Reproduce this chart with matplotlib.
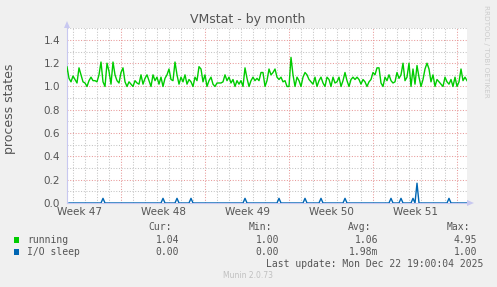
import numpy as np
import pandas as pd
import matplotlib
matplotlib.use('Agg')
import matplotlib.pyplot as plt
from matplotlib.patches import Polygon, Rectangle

# running processes, one sample per 4 hours
running = [
    1.12, 1.08, 1.05, 1.05, 1.11, 1.04, 1.00, 1.04, 1.02, 1.00,
    1.04, 1.03, 1.17, 1.07, 1.04, 1.09, 1.06, 1.03, 1.16, 1.10,
    1.04, 1.03, 1.00, 1.05, 1.08, 1.05, 1.05, 1.04, 1.10, 1.21,
    1.04, 1.00, 1.20, 1.13, 1.02, 1.21, 1.10, 1.05, 1.03, 1.12,
    1.16, 1.04, 1.00, 1.04, 1.02, 1.00, 1.05, 1.03, 1.02, 1.10,
    1.02, 1.07, 1.10, 1.05, 1.00, 1.10, 1.05, 1.08, 1.02, 1.08,
    1.00, 1.07, 1.10, 1.15, 1.06, 1.05, 1.21, 1.10, 1.02, 1.08,
    1.04, 1.10, 1.02, 1.06, 1.04, 1.00, 1.08, 1.05, 1.17, 1.15,
    1.04, 1.10, 1.00, 1.05, 1.08, 1.02, 1.00, 1.03, 1.03, 1.03,
    1.04, 1.10, 1.05, 1.08, 1.03, 1.06, 1.00, 1.05, 1.02, 1.05,
    1.00, 1.16, 1.07, 1.00, 1.05, 1.08, 1.05, 1.07, 1.05, 1.12,
    1.12, 1.00, 1.05, 1.15, 1.10, 1.12, 1.15, 1.08, 1.06, 1.08,
    1.04, 1.05, 1.00, 1.00, 1.25, 1.10, 1.00, 1.08, 1.05, 1.00,
    1.08, 1.12, 1.10, 1.06, 1.04, 1.02, 1.08, 1.00, 1.05, 1.08,
    1.03, 1.00, 1.08, 1.06, 1.00, 1.08, 1.03, 1.04, 1.08, 1.00,
    1.05, 1.12, 1.05, 1.00, 1.06, 1.08, 1.06, 1.08, 1.06, 1.02,
    1.06, 1.04, 1.00, 1.04, 1.06, 1.12, 1.10, 1.16, 1.16, 1.03,
    1.00, 1.08, 1.05, 1.10, 1.05, 1.03, 1.04, 1.12, 1.07, 1.10,
    1.20, 1.05, 1.08, 1.20, 1.00, 1.15, 1.02, 1.18, 1.08, 1.00,
    1.06, 1.15, 1.20, 1.15, 1.04, 1.10, 1.00, 1.06, 1.04, 1.02,
    1.00, 1.08, 1.04, 1.02, 1.06, 1.00, 1.08, 1.00, 1.04, 1.15,
    1.05, 1.08, 1.05,
]

# I/O sleep: zero except a few short spikes (sample index, value)
io_spike_idx = [17, 47, 54, 61, 88, 105, 118, 126, 138, 161, 166, 172, 174, 190]
io_spike_val = [0.04, 0.04, 0.04, 0.04, 0.04, 0.04, 0.04, 0.04, 0.04, 0.04,
                0.04, 0.04, 0.17, 0.04]
io_len = 200

week_labels = ["Week 47", "Week 48", "Week 49", "Week 50", "Week 51"]
week_mondays = ["2025-11-17", "2025-11-24", "2025-12-01", "2025-12-08", "2025-12-15"]

legend_names = ["running", "I/O sleep"]
legend_colors = ["#00cc00", "#0066b3"]
cur_vals = ["1.04", "0.00"]
min_vals = ["1.00", "0.00"]
avg_vals = ["1.06", "1.98m"]
max_vals = ["4.95", "1.00"]

t_start = pd.Timestamp("2025-11-19 11:00")
t_end = pd.Timestamp("2025-12-22 19:00")

W, H = 497, 287
BG = "#f0f0f0"
TXT = "#555555"

fig = plt.figure(figsize=(W / 100, H / 100), dpi=100, facecolor=BG)
L, R, T, B = 67, 467, 28, 203
ax = fig.add_axes([L / W, 1 - B / H, (R - L) / W, (B - T) / H])
ax.set_facecolor("white")

t_run = pd.date_range(end=t_end, periods=len(running), freq="4h")
io = np.zeros(io_len)
io[io_spike_idx] = io_spike_val
t_io = pd.date_range(end=t_end, periods=io_len, freq="4h")

ax.set_xlim(t_start, t_end)
ax.set_ylim(0, 1.502)

# grid: minor gray dotted, major red dotted
dot = (0, (1, 1.6))
MINOR = "#c4c4c4"
MAJOR = "#e89a9a"
for d in pd.date_range("2025-11-20", "2025-12-22", freq="D"):
    ax.axvline(d, color=MAJOR if d.weekday() == 0 else MINOR,
               lw=0.75, ls=dot, zorder=1)
for k in range(1, 16):
    ax.axhline(k / 10, color=MAJOR if k % 2 == 0 else MINOR,
               lw=0.75, ls=dot, zorder=1)

ax.plot(t_run, running, color=legend_colors[0], lw=1, zorder=3)
ax.plot(t_io, io, color=legend_colors[1], lw=1, zorder=3)

for s in ["top", "right"]:
    ax.spines[s].set_visible(False)
for s in ["left", "bottom"]:
    ax.spines[s].set_color("#c8c8f0")
    ax.spines[s].set_linewidth(0.8)

yt = np.arange(0, 1.41, 0.2)
ax.set_yticks(yt)
ax.set_yticklabels([f"{v:.1f}" for v in yt])
centers = [pd.Timestamp(m) + pd.Timedelta(hours=84) for m in week_mondays]
ax.set_xticks(centers)
ax.set_xticklabels(week_labels)
ax.tick_params(axis="both", length=0, labelsize=7.5, labelcolor=TXT, pad=3)
ax.tick_params(axis="y", pad=5)

# axis arrows
def px(x, y):
    return (x / W, 1 - y / H)

fig.patches.append(Polygon([px(64, 28), px(70, 28), px(67, 21)], closed=True,
                           transform=fig.transFigure, fc="#c8c8f0", ec="none"))
fig.patches.append(Polygon([px(467, 200), px(467, 206), px(474, 203)], closed=True,
                           transform=fig.transFigure, fc="#c8c8f0", ec="none"))

fig.text(248 / W, 1 - 20 / H, "VMstat - by month", ha="center", va="center",
         fontsize=9, color=TXT)
fig.text(10 / W, 1 - 109 / H, "process states", rotation=90, ha="center",
         va="center", fontsize=9, color=TXT)
fig.text(486 / W, 1 - 5 / H, "RRDTOOL / TOBI OETIKER", rotation=270, ha="center",
         va="top", fontsize=5.2, color="#cccccc")

mono = dict(family="DejaVu Sans Mono", fontsize=7, color=TXT, va="center")
fig.text(172 / W, 1 - 227 / H, "Cur:", ha="right", **mono)
fig.text(272 / W, 1 - 227 / H, "Min:", ha="right", **mono)
fig.text(371 / W, 1 - 227 / H, "Avg:", ha="right", **mono)
fig.text(470 / W, 1 - 227 / H, "Max:", ha="right", **mono)

rows_y = [240, 252]
for i, name in enumerate(legend_names):
    y = 1 - rows_y[i] / H
    fig.patches.append(Rectangle(px(14, rows_y[i] + 3), 5 / W, 6 / H,
                                 transform=fig.transFigure,
                                 fc=legend_colors[i], ec="none"))
    fig.text(27 / W, y, name, ha="left", **mono)
    fig.text(179 / W, y, cur_vals[i], ha="right", **mono)
    fig.text(279 / W, y, min_vals[i], ha="right", **mono)
    fig.text(378 / W, y, avg_vals[i], ha="right", **mono)
    fig.text(477 / W, y, max_vals[i], ha="right", **mono)

fig.text(483 / W, 1 - 264 / H, "Last update: Mon Dec 22 19:00:04 2025",
         ha="right", **mono)
fig.text(248 / W, 1 - 276 / H, "Munin 2.0.73", ha="center", va="center",
         fontsize=5.5, color="#c0c0c0")

fig.savefig("out.png", dpi=100, facecolor=BG)
